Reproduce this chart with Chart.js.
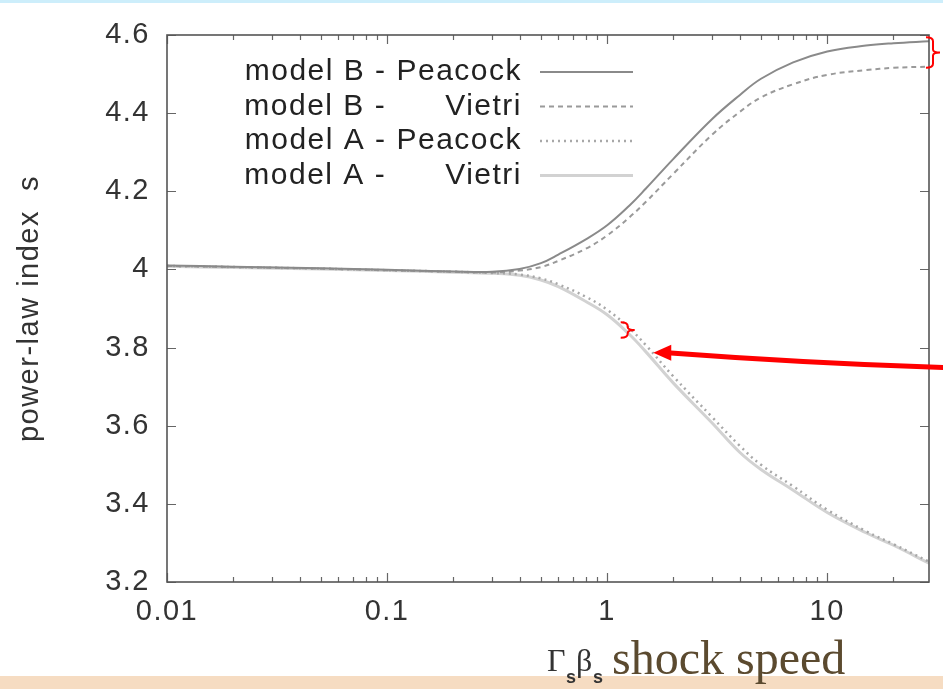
<!DOCTYPE html>
<html>
<head>
<meta charset="utf-8">
<script src="https://cdn.jsdelivr.net/npm/chart.js@4.4.1/dist/chart.umd.min.js"></script>
<style>
  html, body { margin: 0; padding: 0; background: #fff; }
  #wrap { width: 943px; height: 689px; }
</style>
</head>
<body>
<div id="wrap"><canvas id="chart" width="943" height="689"></canvas></div>
<script>
// shock speed Gamma_s * beta_s (log axis)
const speeds = [0.01, 0.02, 0.05, 0.1, 0.2, 0.3, 0.4, 0.5, 0.6, 0.8, 1, 1.26, 1.5, 2, 3, 4, 5, 7, 10, 15, 20, 29];

// power-law index s for each model
const modelBPeacock = [4.010, 4.007, 4.003, 3.999, 3.995, 3.994, 4.001, 4.016, 4.038, 4.077, 4.113, 4.163, 4.207, 4.283, 4.385, 4.446, 4.488, 4.530, 4.558, 4.573, 4.579, 4.584];
const modelBVietri  = [4.009, 4.006, 4.002, 3.998, 3.994, 3.992, 3.997, 4.006, 4.022, 4.053, 4.087, 4.133, 4.173, 4.245, 4.345, 4.403, 4.440, 4.474, 4.498, 4.510, 4.516, 4.519];
const modelAPeacock = [4.009, 4.006, 4.002, 3.998, 3.994, 3.991, 3.987, 3.977, 3.962, 3.930, 3.897, 3.850, 3.806, 3.726, 3.622, 3.549, 3.500, 3.445, 3.385, 3.330, 3.297, 3.252];
const modelAVietri  = [4.008, 4.005, 4.001, 3.997, 3.993, 3.990, 3.985, 3.973, 3.956, 3.918, 3.884, 3.834, 3.789, 3.709, 3.607, 3.532, 3.488, 3.435, 3.378, 3.326, 3.294, 3.248];

const labels = ['model B - Peacock', 'model B -      Vietri', 'model A - Peacock', 'model A -      Vietri'];
const xTicks = [0.01, 0.1, 1, 10];
const yTicks = [3.2, 3.4, 3.6, 3.8, 4.0, 4.2, 4.4, 4.6];

Chart.defaults.font.family = '"Liberation Sans", Arial, sans-serif';
Chart.defaults.color = '#333';

const pts = arr => speeds.map((x, i) => ({ x: x, y: arr[i] }));

// gnuplot style frame with inward ticks
const framePlugin = {
  id: 'frame',
  afterDatasetsDraw(chart) {
    const { ctx, chartArea: a, scales: { x, y } } = chart;
    ctx.save();
    ctx.strokeStyle = '#666';
    ctx.lineWidth = 1.2;
    ctx.beginPath();
    for (let e = -2; e <= 1; e++) {
      for (let k = 1; k <= 9; k++) {
        const v = k * Math.pow(10, e);
        if (v > x.max) break;
        const px = Math.round(x.getPixelForValue(v)) + 0.5;
        const len = k === 1 ? 9 : 5;
        ctx.moveTo(px, a.bottom); ctx.lineTo(px, a.bottom - len);
        ctx.moveTo(px, a.top); ctx.lineTo(px, a.top + len);
      }
    }
    yTicks.forEach(v => {
      const py = Math.round(y.getPixelForValue(v)) + 0.5;
      ctx.moveTo(a.left, py); ctx.lineTo(a.left + 9, py);
      ctx.moveTo(a.right, py); ctx.lineTo(a.right - 9, py);
    });
    ctx.stroke();
    ctx.strokeStyle = '#555';
    ctx.lineWidth = 1.6;
    ctx.strokeRect(a.left, a.top, a.right - a.left, a.bottom - a.top);
    ctx.restore();
  }
};

// key drawn inside the plot, gnuplot style
const keyPlugin = {
  id: 'key',
  afterDraw(chart) {
    const ctx = chart.ctx;
    ctx.save();
    ctx.font = '30px "Liberation Sans", Arial, sans-serif';
    ctx.letterSpacing = '1.5px';
    ctx.fillStyle = '#222';
    ctx.textAlign = 'right';
    ctx.textBaseline = 'middle';
    chart.data.datasets.forEach((ds, i) => {
      const yy = 72 + i * 34.5;
      ctx.fillText(ds.label, 522, yy);
      ctx.strokeStyle = ds.borderColor;
      ctx.lineWidth = ds.borderWidth;
      ctx.setLineDash(ds.borderDash || []);
      ctx.beginPath();
      ctx.moveTo(540, yy); ctx.lineTo(633, yy);
      ctx.stroke();
    });
    ctx.restore();
  }
};

// slide decorations: braces, arrow, axis caption, coloured strips
const notesPlugin = {
  id: 'notes',
  beforeDraw(chart) {
    const ctx = chart.ctx;
    ctx.save();
    ctx.fillStyle = '#fff';
    ctx.fillRect(0, 0, chart.width, chart.height);
    ctx.restore();
    // gnuplot-like wide text for the axis labels
    ctx.letterSpacing = '1.5px';
  },
  afterDraw(chart) {
    const { ctx, chartArea: a, scales: { x, y } } = chart;
    const n = speeds.length - 1;
    ctx.save();
    ctx.letterSpacing = '0px';
    ctx.fillStyle = '#cdeefb';
    ctx.fillRect(0, 0, chart.width, 3);
    ctx.fillStyle = '#f6dcc2';
    ctx.fillRect(0, 676, chart.width, 13);

    // braces
    ctx.strokeStyle = '#f00';
    ctx.lineWidth = 2;
    const brace = (bx, y0, y1, w) => {
      const ym = (y0 + y1) / 2;
      ctx.beginPath();
      ctx.moveTo(bx - w, y0); ctx.quadraticCurveTo(bx, y0, bx, y0 + 4);
      ctx.lineTo(bx, ym - 3); ctx.quadraticCurveTo(bx, ym, bx + w, ym);
      ctx.quadraticCurveTo(bx, ym, bx, ym + 3);
      ctx.lineTo(bx, y1 - 4); ctx.quadraticCurveTo(bx, y1, bx - w, y1);
      ctx.stroke();
    };
    brace(a.right + 4, y.getPixelForValue(modelBPeacock[n]) - 4, y.getPixelForValue(modelBVietri[n]) + 1, 7);
    brace(x.getPixelForValue(1.24), y.getPixelForValue(3.865), y.getPixelForValue(3.825), 7);

    // arrow
    const tx = x.getPixelForValue(1.62), ty = y.getPixelForValue(3.787);
    ctx.lineWidth = 5;
    ctx.beginPath();
    ctx.moveTo(chart.width + 2, ty + 15);
    ctx.quadraticCurveTo(800, ty + 10, tx + 14, ty);
    ctx.stroke();
    ctx.fillStyle = '#f00';
    ctx.beginPath();
    ctx.moveTo(tx, ty); ctx.lineTo(tx + 18, ty - 8); ctx.lineTo(tx + 18, ty + 8);
    ctx.closePath();
    ctx.fill();

    // axis caption
    ctx.fillStyle = '#333';
    ctx.textBaseline = 'alphabetic';
    ctx.textAlign = 'left';
    ctx.font = '32px "Liberation Serif", serif';
    ctx.fillText('\u0393', 547, 671);
    ctx.fillText('\u03b2', 576, 671);
    ctx.font = 'bold 18px "Liberation Sans", sans-serif';
    ctx.fillText('s', 566, 683);
    ctx.fillText('s', 593, 683);
    ctx.fillStyle = '#5b4a2f';
    ctx.font = '48px "Liberation Serif", serif';
    ctx.fillText('shock speed', 612, 674);
    ctx.restore();
  }
};

new Chart(document.getElementById('chart'), {
  type: 'scatter',
  data: {
    datasets: [
      { label: labels[0], data: pts(modelBPeacock), borderColor: '#8a8a8a', borderWidth: 2 },
      { label: labels[1], data: pts(modelBVietri), borderColor: '#9a9a9a', borderWidth: 2, borderDash: [5, 4] },
      { label: labels[2], data: pts(modelAPeacock), borderColor: '#a8a8a8', borderWidth: 2.5, borderDash: [2, 4] },
      { label: labels[3], data: pts(modelAVietri), borderColor: '#d2d2d2', borderWidth: 3 }
    ].map(ds => ({ ...ds, showLine: true, pointRadius: 0, tension: 0.4, fill: false }))
  },
  options: {
    responsive: false,
    animation: false,
    layout: { padding: { left: 0, top: 35, right: 14, bottom: 47 } },
    plugins: { legend: { display: false }, tooltip: { enabled: false } },
    scales: {
      x: {
        type: 'logarithmic', min: 0.01, max: 29,
        grid: { display: false, drawTicks: false }, border: { display: false },
        afterBuildTicks: s => { s.ticks = xTicks.map(v => ({ value: v })); },
        afterFit: s => { s.height = 60; },
        ticks: { font: { size: 29 }, color: '#333', padding: 13, maxRotation: 0, autoSkip: false, callback: v => String(v) }
      },
      y: {
        type: 'linear', min: 3.2, max: 4.6,
        grid: { display: false, drawTicks: false }, border: { display: false },
        afterBuildTicks: s => { s.ticks = yTicks.map(v => ({ value: v })); },
        afterFit: s => { s.width = 167; },
        ticks: { font: { size: 29 }, color: '#333', padding: 17, callback: v => String(Number(v.toFixed(1))) },
        title: { display: true, text: 'power-law index  s', font: { size: 29 }, color: '#333', padding: { top: 13, bottom: 0 } }
      }
    }
  },
  plugins: [notesPlugin, framePlugin, keyPlugin]
});
</script>
</body>
</html>
